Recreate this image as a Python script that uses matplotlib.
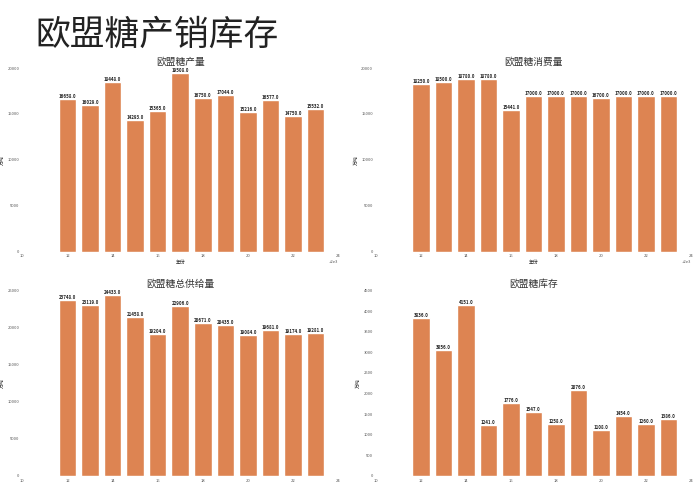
import numpy as np
import matplotlib
matplotlib.use('Agg')
import matplotlib.pyplot as plt
import matplotlib.ticker as mticker
import seaborn as sns

sns.set_style('white')
plt.rcParams['font.family'] = ['Noto Sans CJK SC', 'DejaVu Sans']
plt.rcParams['axes.unicode_minus'] = False

# data
years = [2012, 2013, 2014, 2015, 2016, 2017, 2018, 2019, 2020, 2021, 2022, 2023]
production = [16658.0, 16029.0, 18448.0, 14293.0, 15365.0, 19508.0, 16750.0, 17044.0, 15216.0, 16577.0, 14750.0, 15532.0]
consumption = [18250.0, 18500.0, 18780.0, 18780.0, 15441.0, 17000.0, 17000.0, 17000.0, 16700.0, 17000.0, 17000.0, 17000.0]
supply = [23748.0, 23119.0, 24433.0, 21458.0, 19204.0, 22906.0, 20671.0, 20435.0, 19084.0, 19681.0, 19174.0, 19281.0]
stock = [3836.0, 3056.0, 4151.0, 1241.0, 1776.0, 1547.0, 1258.0, 2076.0, 1108.0, 1454.0, 1260.0, 1386.0]

titles = ['欧盟糖产量', '欧盟糖消费量', '欧盟糖总供给量', '欧盟糖库存']
series = [production, consumption, supply, stock]
ysteps = [5000, 5000, 5000, 500]
ytops = [20000, 20000, 25000, 4500]
bar_color = '#dd8452'

fig = plt.figure(figsize=(7, 4.83), dpi=100)
fig.text(0.05, 0.927, '欧盟糖产销库存', fontsize=25, va='center', ha='left', color='#222222')

# axes positions: [left, bottom, width, height]
pos = [[0.032, 0.479, 0.451, 0.380],
       [0.537, 0.479, 0.450, 0.380],
       [0.032, 0.015, 0.451, 0.383],
       [0.537, 0.015, 0.450, 0.383]]

for i, (vals, title) in enumerate(zip(series, titles)):
    ax = fig.add_axes(pos[i])
    bars = ax.bar(years, vals, width=0.78, color=bar_color)
    for b, v in zip(bars, vals):
        ax.text(b.get_x() + b.get_width() / 2, v, f'{v:.1f}', ha='center', va='bottom',
                fontsize=3.2, fontweight='bold', color='#222222')
    ax.set_xlim(2010, 2024)
    ax.set_ylim(0, ytops[i])
    ax.set_xticks(np.arange(2010, 2025, 2))
    ax.xaxis.set_major_formatter(mticker.FuncFormatter(lambda x, p: f'{int(x - 2000)}'))
    if i < 2:
        ax.text(1.0, -0.045, '+2e3', transform=ax.transAxes, fontsize=3, ha='right', va='top', color='#555555')
    ax.yaxis.set_major_locator(mticker.MultipleLocator(ysteps[i]))
    ax.set_title(title, fontsize=7, pad=2.5, color='#333333')
    ax.set_ylabel('万吨', fontsize=3.5, labelpad=2)
    if i < 2:
        ax.set_xlabel('年份', fontsize=3.5, labelpad=1)
    ax.tick_params(labelsize=3, length=0, pad=2, labelcolor='#555555')
    for s in ax.spines.values():
        s.set_visible(False)

plt.savefig('out.png', dpi=100)
